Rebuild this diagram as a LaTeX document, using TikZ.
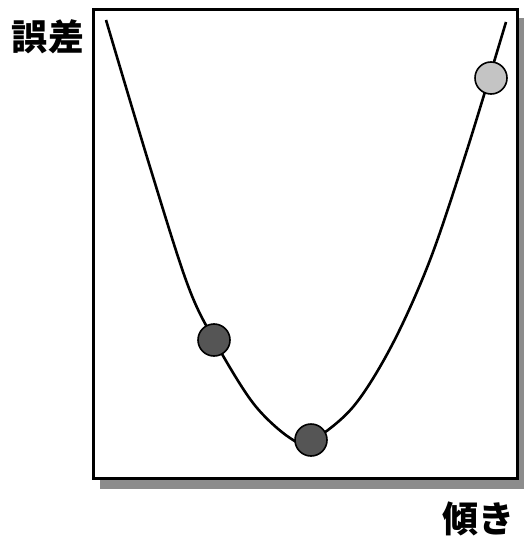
\documentclass[tikz,border=0pt]{standalone}
\usepackage{fontspec}
\newfontfamily\cjk{Noto Sans CJK JP}
\definecolor{shade}{HTML}{8C8C8C}
\definecolor{balldark}{HTML}{555555}
\definecolor{balllight}{HTML}{C4C4C4}

\begin{document}
\begin{tikzpicture}[
    x=1pt, y=-1pt,
    frame/.style={
        draw=black,
        line width=3pt,
        fill=white,
    },
    shadow/.style={
        fill=shade,
    },
    curve/.style={
        line width=2.6pt,
        color=black,
    },
    ball/.style={
        circle,
        draw=black,
        line width=1.6pt,
        minimum size=32pt,
        inner sep=0pt,
        fill=balldark,
    },
    lightball/.style={
        ball,
        fill=balllight,
    },
    axislbl/.style={
        font=\cjk\bfseries\fontsize{36}{40}\selectfont,
        inner sep=0pt,
    },
]

\useasboundingbox (0,0) rectangle (525,540);

% box with its shadow
\fill[shadow] (100,18) rectangle (524,489);
\draw[frame] (93,10) rectangle (517,478);

% error curve
\draw[curve] plot[smooth, tension=0.55] coordinates {
    (106,20) (150,167) (187,283) (213,338) (253,403) (290,438)
    (311,441) (353,407) (392,345) (430,260) (467,150) (506,22)};

\node[ball] (left) at (214,340) {};
\node[ball] (bottom) at (311,440) {};
\node[lightball] (top) at (491,78) {};

\node[axislbl] (err) at (48,37) {誤差};
\node[axislbl] (slope) at (478,519) {傾き};

\end{tikzpicture}
\end{document}
